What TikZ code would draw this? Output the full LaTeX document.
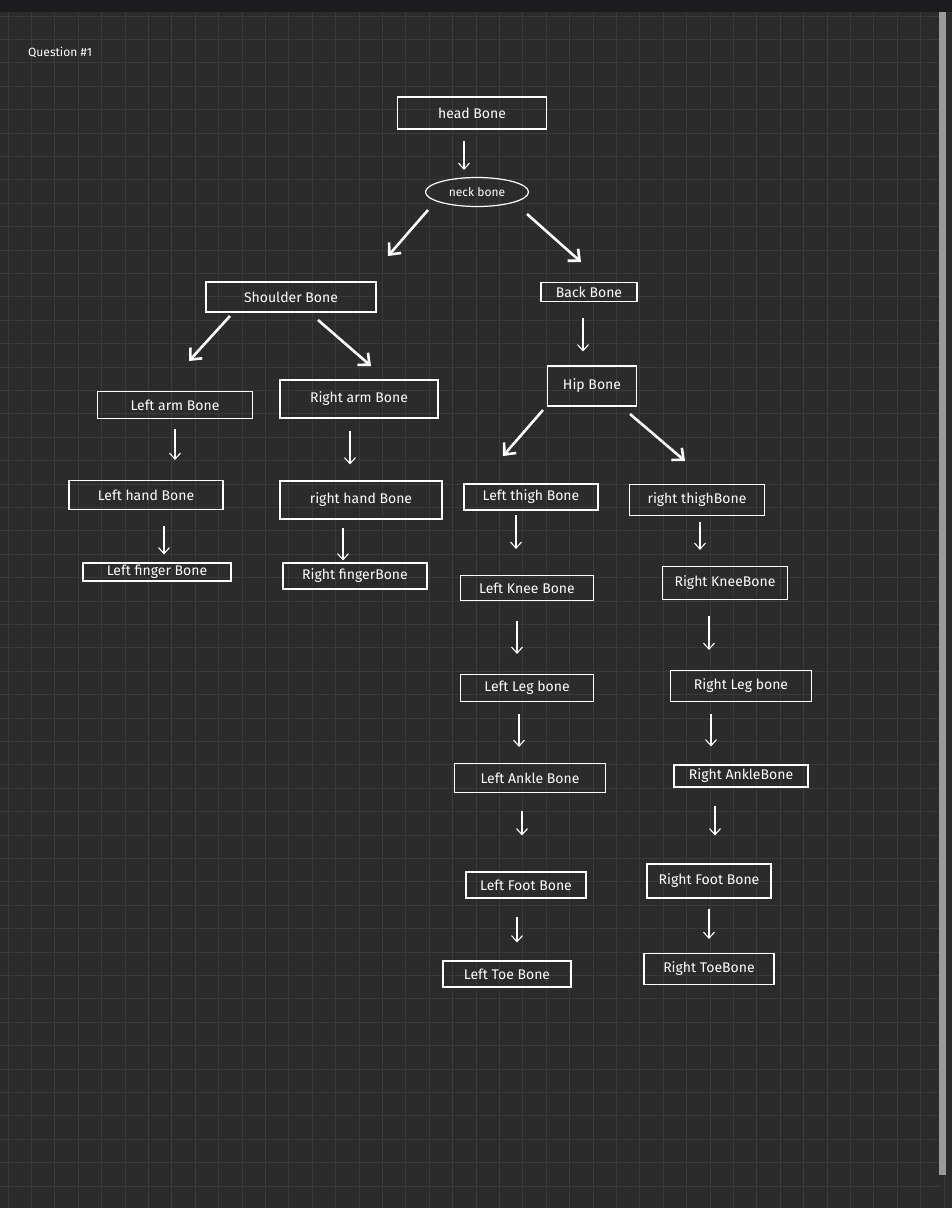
\documentclass[tikz,border=0pt]{standalone}
\usepackage{fontspec}
\setmainfont{Fira Sans}
\usetikzlibrary{arrows.meta}
\definecolor{bg}{HTML}{2B2B2B}
\definecolor{gridc}{HTML}{3A3A3A}
\definecolor{topbar}{HTML}{1C1C1E}
\definecolor{sbar}{HTML}{9A9A9A}
\tikzset{
  bx/.style={draw=white, line width=1.2pt, text=white, inner sep=0pt, minimum height=#1, font=\fontsize{14}{14}\selectfont},
  bx/.default=27pt,
  el/.style={draw=white, line width=1.2pt, ellipse, text=white, font=\fontsize{12}{12}\selectfont, minimum width=103pt, minimum height=29pt, inner sep=0pt},
  ar/.style={draw=white, line width=1.1pt, -{Straight Barb[length=6pt,width=11pt]}},
  dar/.style={draw=white, line width=2.6pt, -{Straight Barb[length=9pt,width=16pt,line width=2.6pt]}}
}
\usetikzlibrary{shapes.geometric}
\begin{document}
\begin{tikzpicture}[x=1pt,y=-1pt]
\useasboundingbox (0,0) rectangle (952,1208);
\fill[bg] (0,0) rectangle (952,1208);
\foreach \i in {0,...,41} {\draw[gridc, line width=0.8pt] (8+\i*23.4,12) -- (8+\i*23.4,1208);}
\foreach \i in {0,...,51} {\draw[gridc, line width=0.8pt] (0,16+\i*23.4) -- (940,16+\i*23.4);}
\fill[topbar] (0,0) rectangle (952,12);
\fill[sbar] (939,12) rectangle (946,1175);
\node[text=white, anchor=west, inner sep=0pt, font=\fontsize{12}{12}\selectfont] (q) at (28,52) {Question \#1};

\node[bx=32pt, minimum width=149pt] (head) at (472,113) {head Bone};
\node[el] (neck) at (477,192) {neck bone};
\node[bx=30pt, minimum width=170pt] (sh) at (291,297) {Shoulder Bone};
\node[bx=19pt, minimum width=96pt] (back) at (589,292) {Back Bone};
\node[bx=40pt, minimum width=89pt] (hip) at (592,386) {Hip Bone};
\node[bx, minimum width=155pt] (la) at (175,405) {Left arm Bone};
\node[bx=38pt, minimum width=158pt] (ra) at (359,399) {Right arm Bone};
\node[bx=29pt, minimum width=154pt] (lh) at (146,495) {Left hand Bone};
\node[bx=38pt, minimum width=162pt] (rh) at (361,500) {right hand Bone};
\node[bx=18pt, minimum width=148pt] (lf) at (157,572) {Left finger Bone};
\node[bx=26pt, minimum width=144pt] (rf) at (355,576) {Right fingerBone};
\node[bx=26pt, minimum width=134pt] (lt) at (531,497) {Left thigh Bone};
\node[bx=31pt, minimum width=135pt] (rt) at (697,500) {right thighBone};
\node[bx=25pt, minimum width=133pt] (lk) at (527,588) {Left Knee Bone};
\node[bx=33pt, minimum width=125pt] (rk) at (725,583) {Right KneeBone};
\node[bx=27pt, minimum width=133pt] (ll) at (527,688) {Left Leg bone};
\node[bx=31pt, minimum width=141pt] (rl) at (741,686) {Right Leg bone};
\node[bx=29pt, minimum width=151pt] (lan) at (530,778) {Left Ankle Bone};
\node[bx=22pt, minimum width=134pt] (ran) at (741,776) {Right AnkleBone};
\node[bx=26pt, minimum width=120pt] (lfo) at (526,885) {Left Foot Bone};
\node[bx=34pt, minimum width=124pt] (rfo) at (709,881) {Right Foot Bone};
\node[bx=26pt, minimum width=128pt] (lto) at (507,974) {Left Toe Bone};
\node[bx=31pt, minimum width=130pt] (rto) at (709,969) {Right ToeBone};

\draw[ar, shorten <=11pt, shorten >=7pt] (head.south) ++(-8,0) coordinate (h1) (h1) -- (h1 |- neck.north);
\draw[dar] (428,210) -- (388,256);
\draw[dar] (527,214) -- (581,262);
\draw[dar] (230,316) -- (189,361);
\draw[dar] (318,320) -- (371,366);
\draw[ar, shorten <=16pt, shorten >=14pt] (back.south) ++(-6,0) coordinate (b1) (b1) -- (b1 |- hip.north);
\draw[dar] (543,410) -- (503,456);
\draw[dar] (630,414) -- (685,461);
\draw[ar, shorten <=10pt, shorten >=20pt] (la.south) -- (la.south |- lh.north);
\draw[ar, shorten <=12pt, shorten >=16pt] (ra.south) ++(-9,0) coordinate (r1) (r1) -- (r1 |- rh.north);
\draw[ar, shorten <=16pt, shorten >=8pt] (lh.south) ++(18,0) coordinate (l2) (l2) -- (l2 |- lf.north);
\draw[ar, shorten <=8pt, shorten >=2pt] (rh.south) ++(-18,0) coordinate (r2) (r2) -- (r2 |- rf.north);
\draw[ar, shorten <=4pt, shorten >=26pt] (lt.south) ++(-15,0) coordinate (t1) (t1) -- (t1 |- lk.north);
\draw[ar, shorten <=6pt, shorten >=16pt] (rt.south) ++(3,0) coordinate (t2) (t2) -- (t2 |- rk.north);
\draw[ar, shorten <=20pt, shorten >=20pt] (lk.south) ++(-10,0) coordinate (k1) (k1) -- (k1 |- ll.north);
\draw[ar, shorten <=16pt, shorten >=20pt] (rk.south) ++(-16,0) coordinate (k2) (k2) -- (k2 |- rl.north);
\draw[ar, shorten <=12pt, shorten >=16pt] (ll.south) ++(-8,0) coordinate (g1) (g1) -- (g1 |- lan.north);
\draw[ar, shorten <=12pt, shorten >=18pt] (rl.south) ++(-30,0) coordinate (g2) (g2) -- (g2 |- ran.north);
\draw[ar, shorten <=18pt, shorten >=36pt] (lan.south) ++(-8,0) coordinate (a1) (a1) -- (a1 |- lfo.north);
\draw[ar, shorten <=18pt, shorten >=28pt] (ran.south) ++(-26,0) coordinate (a2) (a2) -- (a2 |- rfo.north);
\draw[ar, shorten <=18pt, shorten >=18pt] (lfo.south) ++(-9,0) coordinate (f1) (f1) -- (f1 |- lto.north);
\draw[ar, shorten <=10pt, shorten >=14pt] (rfo.south) -- (rfo.south |- rto.north);
\end{tikzpicture}
\end{document}
